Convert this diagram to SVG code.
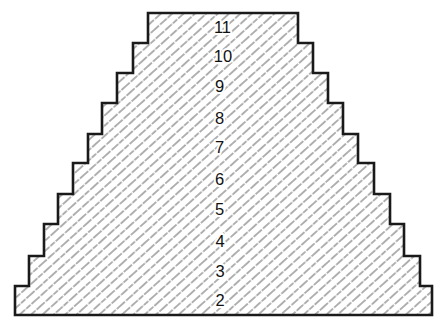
<svg xmlns="http://www.w3.org/2000/svg" width="439" height="320" viewBox="0 0 439 320">
  <defs>
    <pattern id="hatch" patternUnits="userSpaceOnUse" width="30" height="7.6" patternTransform="rotate(-42)">
      <line x1="0" y1="3.8" x2="30" y2="3.8" stroke="#444444" stroke-width="0.85" stroke-dasharray="11 1.5 9 1.2 6 1.3"/>
    </pattern>
  </defs>
  <style>
    .outline { fill: url(#hatch); stroke: #1a1a1a; stroke-width: 2.6; stroke-linejoin: miter; }
    .lbl { font-family: "Liberation Sans", Arial, sans-serif; font-size: 16.5px; fill: #111111; text-anchor: middle; stroke: #ffffff; stroke-width: 4; paint-order: stroke; stroke-linejoin: round; }
  </style>
  <rect width="439" height="320" fill="#ffffff"/>
  <g id="pyramid">
    <path class="outline" d="M148,13 H298 V43 H313 V73 H328 V103 H343 V134 H358 V163 H374 V194 H390 V224 H404 V256 H420 V286 H432 V315 H15 V286 H29 V256 H44 V224 H58 V194 H73 V163 H88 V134 H102 V103 H117 V73 H133 V43 H148 Z"/>
  </g>
  <g id="labels">
    <text class="lbl" x="222.5" y="33">11</text>
    <text class="lbl" x="223" y="62">10</text>
    <text class="lbl" x="219.5" y="92">9</text>
    <text class="lbl" x="219.5" y="124">8</text>
    <text class="lbl" x="219.5" y="153">7</text>
    <text class="lbl" x="219.5" y="185">6</text>
    <text class="lbl" x="219.5" y="215">5</text>
    <text class="lbl" x="220" y="247">4</text>
    <text class="lbl" x="220" y="277">3</text>
    <text class="lbl" x="220" y="306">2</text>
  </g>
</svg>
